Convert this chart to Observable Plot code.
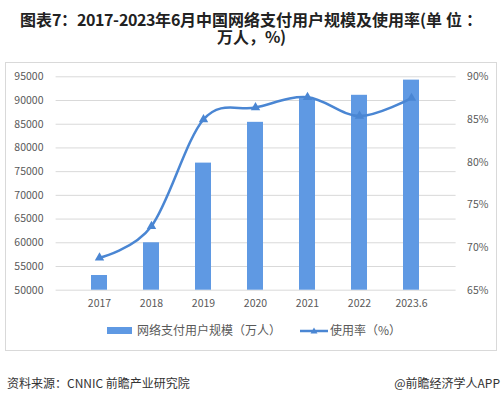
<!DOCTYPE html>
<html><head><meta charset="utf-8">
<script src="https://cdn.jsdelivr.net/npm/d3@7"></script>
<script src="https://cdn.jsdelivr.net/npm/@observablehq/plot@0.6"></script>
<style>
@font-face{font-family:'TitleCJK';font-weight:700;src:local('Noto Sans CJK SC Bold'),local('NotoSansCJKsc-Bold'),local('Noto Sans CJK SC');ascent-override:82%;descent-override:14%;line-gap-override:0%;}
body{margin:0;background:#fff;font-family:'Noto Sans CJK SC','Noto Sans',sans-serif;}
#wrap{position:relative;width:502px;height:395px;overflow:hidden;}
#frame{position:absolute;left:5px;top:62px;width:492px;height:289px;border:1px solid #d9d9d9;box-sizing:border-box;}
#chart{position:absolute;left:0;top:0;}
.title{position:absolute;left:0;width:502px;text-align:center;font-family:'TitleCJK','Noto Sans CJK SC',sans-serif;font-weight:700;font-size:16px;line-height:16px;color:#222;white-space:nowrap;}
.leg{position:absolute;top:322px;font-size:12px;color:#595959;line-height:16px;white-space:nowrap;}
.foot{position:absolute;top:375px;font-size:12px;color:#333;line-height:16px;white-space:nowrap;}
</style></head>
<body>
<div id="wrap">
<div id="frame"></div>
<div id="chart"></div>
<div class="title" style="top:13px;">图表7：2017-2023年6月中国网络支付用户规模及使用率(单&nbsp;位&nbsp;：</div>
<div class="title" style="top:30px;">万人，%)</div>
<div class="leg" style="left:107px;"><span style="display:inline-block;width:25px;height:7px;background:#5f99e3;vertical-align:middle;margin-right:5px;position:relative;top:-1px"></span>网络支付用户规模（万人）</div>
<div class="leg" style="left:300px;"><svg width="28" height="10" style="vertical-align:middle;margin-right:2px;position:relative;top:-1px"><line x1="0" y1="5" x2="28" y2="5" stroke="#4a86d3" stroke-width="2.5"/><path d="M14,1.5 L17.5,7.5 L10.5,7.5 Z" fill="#4a86d3"/></svg>使用率（%）</div>
<div class="foot" style="left:7px;">资料来源：CNNIC 前瞻产业研究院</div>
<div class="foot" style="right:2px;">@前瞻经济学人APP</div>
</div>
<script>
const years = ["2017","2018","2019","2020","2021","2022","2023.6"];
const users = [53100, 60000, 76800, 85400, 90400, 91100, 94300];
const rates = [68.8, 72.5, 85.0, 86.4, 87.6, 85.4, 87.5];
const leftTicks = [50000,55000,60000,65000,70000,75000,80000,85000,90000,95000];
const rightTicks = [65,70,75,80,85,90];

const toLeft = r => 50000 + (r - 65) * 1800;
const fromLeft = v => Math.round((v - 50000) / 1800 + 65);
const data = years.map((y, i) => ({year: y, users: users[i], base: 50000, rate: rates[i], rateY: toLeft(rates[i])}));

const chart = Plot.plot({
  width: 502, height: 395,
  marginLeft: 55.6, marginRight: 46.4, marginTop: 76.3, marginBottom: 105.3,
  style: {fontFamily: "'Noto Sans CJK SC','Noto Sans',sans-serif", fontSize: "10.5px", color: "#595959", background: "transparent", overflow: "visible"},
  x: {domain: years, padding: 0.685, label: null},
  y: {domain: [50000, 95000], label: null},
  marks: [
    Plot.gridY(leftTicks, {stroke: "#d9d9d9", strokeOpacity: 1, strokeWidth: 1}),
    Plot.axisY(leftTicks, {tickSize: 0, tickPadding: 12.6, tickFormat: d => String(d), label: null, fill: "#595959"}),
    Plot.axisY(rightTicks.map(toLeft), {anchor: "right", tickSize: 0, tickPadding: 11, tickFormat: d => fromLeft(d) + "%", label: null, fill: "#595959"}),
    Plot.barY(data, {x: "year", y1: "base", y2: "users", fill: "#5f99e3"}),
    Plot.axisX({tickSize: 0, tickPadding: 9, label: null, fill: "#595959"}),
    Plot.line(data, {x: "year", y: "rateY", curve: "cardinal", stroke: "#4a86d3", strokeWidth: 2.5}),
    Plot.dot(data, {x: "year", y: "rateY", symbol: "triangle", r: 3.5, fill: "#4a86d3", stroke: "none"})
  ]
});
document.getElementById("chart").appendChild(chart);
</script>
</body></html>
